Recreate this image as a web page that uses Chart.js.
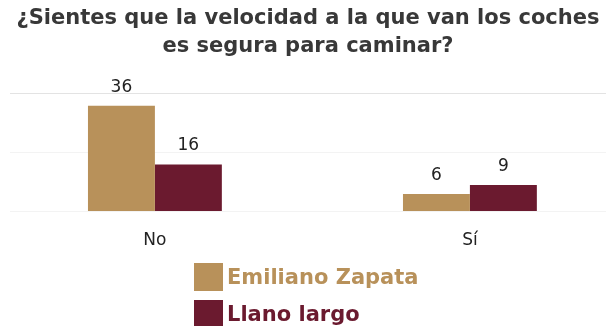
<!DOCTYPE html>
<html>
<head>
<meta charset="utf-8">
<script src="https://cdn.jsdelivr.net/npm/chart.js@4.4.1/dist/chart.umd.min.js"></script>
<style>
  body { margin: 0; background: #fff; }
  #wrap { position: relative; width: 613px; height: 326px; }
  #legend { position: absolute; left: 194px; top: 258px; font-family: "DejaVu Sans", sans-serif; font-weight: bold; font-size: 21px; }
  #legend div { display: flex; align-items: center; height: 37px; }
  #legend span.box { display: inline-block; width: 29px; height: 28px; margin-right: 4px; }
</style>
</head>
<body>
<div id="wrap">
  <canvas id="chart" width="613" height="326"></canvas>
  <div id="legend"></div>
</div>
<script>
var categories = ['No', 'Sí'];
var emilianoZapata = [36, 6];
var llanoLargo = [16, 9];
var seriesNames = ['Emiliano Zapata', 'Llano largo'];
var seriesColors = ['#b8915a', '#6b1a2f'];
var titleLines = ['¿Sientes que la velocidad a la que van los coches', 'es segura para caminar?'];

// bars sit on a linear x axis so the two groups can be placed off-centre like the original
function toPoints(values) {
  return values.map(function(v, i) { return { x: i, y: v }; });
}

var valueLabels = {
  id: 'valueLabels',
  afterDatasetsDraw: function(chart) {
    var ctx = chart.ctx;
    ctx.save();
    ctx.font = '17px "DejaVu Sans"';
    ctx.fillStyle = '#222';
    ctx.textAlign = 'center';
    ctx.textBaseline = 'bottom';
    chart.data.datasets.forEach(function(ds, di) {
      chart.getDatasetMeta(di).data.forEach(function(bar, i) {
        ctx.fillText(ds.data[i].y, bar.x, bar.y - 10);
      });
    });
    ctx.restore();
  }
};

var ctx = document.getElementById('chart').getContext('2d');
var chart = new Chart(ctx, {
  type: 'bar',
  data: {
    datasets: [{
      label: seriesNames[0],
      data: toPoints(emilianoZapata),
      backgroundColor: seriesColors[0]
    }, {
      label: seriesNames[1],
      data: toPoints(llanoLargo),
      backgroundColor: seriesColors[1]
    }]
  },
  options: {
    responsive: false,
    animation: false,
    categoryPercentage: 0.425,
    barPercentage: 1.0,
    layout: { padding: { left: 10, right: 7, bottom: 64 } },
    plugins: {
      legend: { display: false },
      tooltip: { enabled: false },
      title: {
        display: true,
        text: titleLines,
        color: '#383838',
        font: { family: 'DejaVu Sans', size: 21, weight: 'bold', lineHeight: 1.33 },
        padding: { top: 5, bottom: 33 }
      }
    },
    scales: {
      x: {
        type: 'linear',
        offset: false,
        min: -0.46,
        max: 1.432,
        grid: { display: false },
        border: { display: false },
        ticks: {
          stepSize: 1,
          includeBounds: false,
          padding: 11,
          color: '#222',
          font: { family: 'DejaVu Sans', size: 17 },
          callback: function(v) { return categories[v]; }
        }
      },
      y: {
        min: 0,
        max: 40,
        display: true,
        border: { display: false },
        ticks: { display: false, stepSize: 20 },
        grid: {
          drawTicks: false,
          color: function(c) { return c.tick.value === 40 ? '#e3e3e3' : '#f3f3f3'; }
        }
      }
    }
  },
  plugins: [valueLabels]
});

// html legend built from the datasets
var legend = document.getElementById('legend');
chart.data.datasets.forEach(function(ds) {
  var row = document.createElement('div');
  row.innerHTML = '<span class="box" style="background:' + ds.backgroundColor + '"></span>' +
    '<span style="color:' + ds.backgroundColor + '">' + ds.label + '</span>';
  legend.appendChild(row);
});
</script>
</body>
</html>
